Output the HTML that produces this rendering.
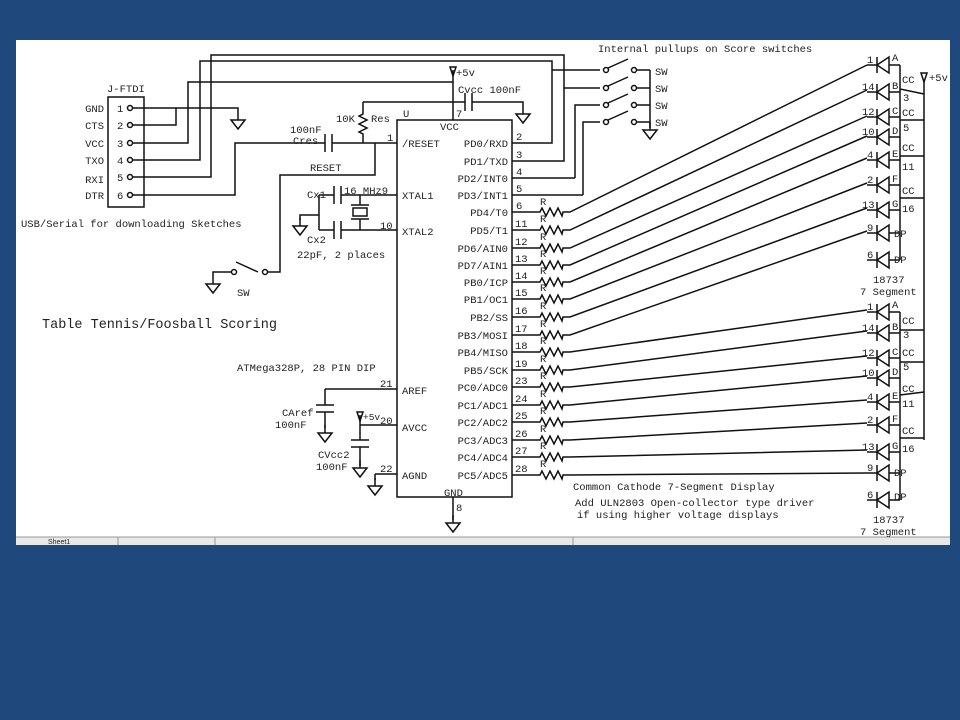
<!DOCTYPE html>
<html><head><meta charset="utf-8"><style>
html,body{margin:0;padding:0;background:#1f497d;width:960px;height:720px;overflow:hidden}
svg{position:absolute;left:0;top:0}
text{font-family:"Liberation Mono",monospace;font-size:10.5px;fill:#222}
</style></head><body>
<svg width="960" height="720" viewBox="0 0 960 720">
<defs>
<g id="gnd"><path d="M0,0 v8 M-7,8 h14 l-7,9 z" fill="none" stroke="#111" stroke-width="1.5"/></g>
<g id="d"><path d="M-8,0 h10 M2,-8 v16 M2,0 l12,-8 v16 z M14,0 h11" fill="none" stroke="#111" stroke-width="1.5"/></g>
</defs>
<rect x="16" y="40" width="934" height="505" fill="#fff"/>
<rect x="16" y="537" width="934" height="8" fill="#e8e8e8"/>
<path d="M16,537 h934 M118,545 v-8 M215,545 v-8 M573,545 v-8" stroke="#999" stroke-width="1"/>
<text x="48" y="544" style="font-size:7px;font-family:'Liberation Sans',sans-serif">Sheet1</text>

<g fill="none" stroke="#111" stroke-width="1.5">
<rect x="108" y="97" width="36" height="110"/>
<path d="M130,108 H238 V112 M130,125 H176 V108 M130,143 H188 V82 H453 M130,160 H200 V61 H552 V143 H512 M130,177 H211 V55 H564 V161 H512 M130,195 H235 V143 H325 M332,143 H397"/>
<path d="M325,134 v18 M332,134 v18"/>
<rect x="397" y="120" width="115" height="377"/>
<path d="M453,70 V120 M453,102 H465 M472,102 H523 V106 M465,93 v18 M472,93 v18"/>
<path d="M363,102 H453"/>
<path d="M363,102 v12 l-4,2 l8,4 l-8,4 l8,4 l-8,4 l4,2 V143"/>
<path d="M375,143 V175 H280 V272 H268 M258,272 L236,262 M232,272 H213 V276"/>
<path d="M319,195 H334 M341,195 H397 M319,230 H334 M341,230 H397 M334,186 v18 M341,186 v18 M334,221 v18 M341,221 v18 M319,195 V230 M319,215 H300 V220"/>
<path d="M360,195 V205 M360,219 V230 M351,205 h18 M351,219 h18"/>
<rect x="353" y="208" width="14" height="8"/>
<path d="M325,389 H397 M325,389 V405 M316,405 h18 M316,412 h18 M325,412 V428"/>
<path d="M360,415 V440 M360,425 H397 M351,440 h18 M351,447 h18 M360,447 V466 M375,474 H397 M375,474 V480 M453,497 V520"/>
<path d="M552,70 H600 M564,88 H600 M575,178 V105 H600 M583,195 V122 H600 M512,178 H575 M512,195 H583 M650,70 V128"/>
</g>
<g stroke="#111" stroke-width="1.5" fill="#fff">
<circle cx="130" cy="108" r="2.5"/><circle cx="130" cy="125" r="2.5"/><circle cx="130" cy="143" r="2.5"/><circle cx="130" cy="160" r="2.5"/><circle cx="130" cy="177" r="2.5"/><circle cx="130" cy="195" r="2.5"/>
</g>
<g stroke="#111" stroke-width="1.5" fill="#fff">
<g transform="translate(600,70)"><circle cx="6" cy="0" r="2.5"/><path d="M8,-2 L28,-11" fill="none"/><circle cx="34" cy="0" r="2.5"/><path d="M37,0 H50" fill="none"/></g>
<g transform="translate(600,88)"><circle cx="6" cy="0" r="2.5"/><path d="M8,-2 L28,-11" fill="none"/><circle cx="34" cy="0" r="2.5"/><path d="M37,0 H50" fill="none"/></g>
<g transform="translate(600,105)"><circle cx="6" cy="0" r="2.5"/><path d="M8,-2 L28,-11" fill="none"/><circle cx="34" cy="0" r="2.5"/><path d="M37,0 H50" fill="none"/></g>
<g transform="translate(600,122)"><circle cx="6" cy="0" r="2.5"/><path d="M8,-2 L28,-11" fill="none"/><circle cx="34" cy="0" r="2.5"/><path d="M37,0 H50" fill="none"/></g>
<circle cx="265" cy="272" r="2.5"/><circle cx="234" cy="272" r="2.5"/>
</g>
<use href="#gnd" x="238" y="112"/><use href="#gnd" x="523" y="106"/><use href="#gnd" x="650" y="122"/>
<use href="#gnd" x="213" y="276"/><use href="#gnd" x="300" y="218"/><use href="#gnd" x="325" y="425"/>
<use href="#gnd" x="360" y="460"/><use href="#gnd" x="375" y="478"/><use href="#gnd" x="453" y="515"/>
<g fill="none" stroke="#111" stroke-width="1.5">
<path d="M453,76 l-3,-9 h6 z M360,421 l-3,-9 h6 z M924,82 l-3,-9 h6 z"/>
</g>

<g fill="none" stroke="#111" stroke-width="1.5">
<path d="M512,212 H540 l2,-4 l4,8 l4,-8 l4,8 l4,-8 l4,8 l1,-4 h7 L867,65"/>
<path d="M512,230 H540 l2,-4 l4,8 l4,-8 l4,8 l4,-8 l4,8 l1,-4 h7 L867,90"/>
<path d="M512,248 H540 l2,-4 l4,8 l4,-8 l4,8 l4,-8 l4,8 l1,-4 h7 L867,116"/>
<path d="M512,265 H540 l2,-4 l4,8 l4,-8 l4,8 l4,-8 l4,8 l1,-4 h7 L867,136"/>
<path d="M512,282 H540 l2,-4 l4,8 l4,-8 l4,8 l4,-8 l4,8 l1,-4 h7 L867,158"/>
<path d="M512,299 H540 l2,-4 l4,8 l4,-8 l4,8 l4,-8 l4,8 l1,-4 h7 L867,183"/>
<path d="M512,317 H540 l2,-4 l4,8 l4,-8 l4,8 l4,-8 l4,8 l1,-4 h7 L867,208"/>
<path d="M512,335 H540 l2,-4 l4,8 l4,-8 l4,8 l4,-8 l4,8 l1,-4 h7 L867,231"/>
<path d="M512,352 H540 l2,-4 l4,8 l4,-8 l4,8 l4,-8 l4,8 l1,-4 h7 L867,310"/>
<path d="M512,370 H540 l2,-4 l4,8 l4,-8 l4,8 l4,-8 l4,8 l1,-4 h7 L867,331"/>
<path d="M512,387 H540 l2,-4 l4,8 l4,-8 l4,8 l4,-8 l4,8 l1,-4 h7 L867,356"/>
<path d="M512,405 H540 l2,-4 l4,8 l4,-8 l4,8 l4,-8 l4,8 l1,-4 h7 L867,376"/>
<path d="M512,422 H540 l2,-4 l4,8 l4,-8 l4,8 l4,-8 l4,8 l1,-4 h7 L867,400"/>
<path d="M512,440 H540 l2,-4 l4,8 l4,-8 l4,8 l4,-8 l4,8 l1,-4 h7 L867,423"/>
<path d="M512,457 H540 l2,-4 l4,8 l4,-8 l4,8 l4,-8 l4,8 l1,-4 h7 L867,450"/>
<path d="M512,475 H540 l2,-4 l4,8 l4,-8 l4,8 l4,-8 l4,8 l1,-4 h7 L867,473"/>
</g>
<g>
<use href="#d" x="875" y="65"/><use href="#d" x="875" y="92"/><use href="#d" x="875" y="117"/><use href="#d" x="875" y="137"/><use href="#d" x="875" y="160"/><use href="#d" x="875" y="185"/><use href="#d" x="875" y="210"/><use href="#d" x="875" y="233"/><use href="#d" x="875" y="260"/>
<use href="#d" x="875" y="312"/><use href="#d" x="875" y="333"/><use href="#d" x="875" y="358"/><use href="#d" x="875" y="378"/><use href="#d" x="875" y="402"/><use href="#d" x="875" y="425"/><use href="#d" x="875" y="452"/><use href="#d" x="875" y="473"/><use href="#d" x="875" y="500"/>
</g>
<g fill="none" stroke="#111" stroke-width="1.5">
<path d="M900,65 V260 M900,89 L924,94 M900,120 H924 M900,156 H924 M900,198 H924 M924,80 V440"/>
<path d="M900,312 V500 M900,330 H924 M900,362 H924 M900,395 L924,392 M900,438 H924"/>
</g>

<text x="107" y="92">J-FTDI</text>
<g text-anchor="end"><text x="104" y="112">GND</text><text x="104" y="129">CTS</text><text x="104" y="147">VCC</text><text x="104" y="164">TXO</text><text x="104" y="183">RXI</text><text x="104" y="199">DTR</text></g>
<text x="117" y="112">1</text><text x="117" y="129">2</text><text x="117" y="147">3</text><text x="117" y="164">4</text><text x="117" y="181">5</text><text x="117" y="199">6</text>
<text x="21" y="227">USB/Serial for downloading Sketches</text>
<text x="42" y="328" style="font-size:13.5px">Table Tennis/Foosball Scoring</text>
<text x="237" y="371">ATMega328P, 28 PIN DIP</text>
<text x="598" y="52">Internal pullups on Score switches</text>
<text x="655" y="75">SW</text><text x="655" y="92">SW</text><text x="655" y="109">SW</text><text x="655" y="126">SW</text>
<text x="237" y="296">SW</text>
<text x="456" y="76">+5v</text><text x="363" y="420" style="font-size:9.5px">+5v</text><text x="929" y="81">+5v</text>
<text x="458" y="93">Cvcc 100nF</text>
<text x="336" y="122">10K</text><text x="371" y="122">Res</text>
<text x="290" y="133">100nF</text><text x="293" y="144">Cres</text>
<text x="310" y="171">RESET</text>
<text x="387" y="141">1</text><text x="456" y="117">7</text><text x="403" y="117">U</text>
<text x="440" y="130">VCC</text><text x="444" y="496">GND</text><text x="456" y="511">8</text>
<text x="307" y="198">Cx1</text><text x="344" y="194">16 MHz9</text><text x="307" y="243">Cx2</text><text x="297" y="258">22pF, 2 places</text><text x="380" y="229">10</text>
<text x="402" y="147">/RESET</text><text x="402" y="199">XTAL1</text><text x="402" y="235">XTAL2</text><text x="402" y="394">AREF</text><text x="402" y="431">AVCC</text><text x="402" y="479">AGND</text>
<text x="380" y="387">21</text><text x="380" y="424">20</text><text x="380" y="472">22</text>
<text x="282" y="416">CAref</text><text x="275" y="428">100nF</text><text x="318" y="458">CVcc2</text><text x="316" y="470">100nF</text>
<g text-anchor="end">
<text x="508" y="147">PD0/RXD</text><text x="508" y="165">PD1/TXD</text><text x="508" y="182">PD2/INT0</text><text x="508" y="199">PD3/INT1</text>
<text x="508" y="216">PD4/T0</text><text x="508" y="234">PD5/T1</text><text x="508" y="252">PD6/AIN0</text><text x="508" y="269">PD7/AIN1</text>
<text x="508" y="286">PB0/ICP</text><text x="508" y="303">PB1/OC1</text><text x="508" y="321">PB2/SS</text><text x="508" y="339">PB3/MOSI</text>
<text x="508" y="356">PB4/MISO</text><text x="508" y="374">PB5/SCK</text><text x="508" y="391">PC0/ADC0</text><text x="508" y="409">PC1/ADC1</text>
<text x="508" y="426">PC2/ADC2</text><text x="508" y="444">PC3/ADC3</text><text x="508" y="461">PC4/ADC4</text><text x="508" y="479">PC5/ADC5</text>
</g>
<g>
<text x="516" y="140">2</text><text x="516" y="158">3</text><text x="516" y="175">4</text><text x="516" y="192">5</text>
<text x="516" y="209">6</text><text x="515" y="227">11</text><text x="515" y="245">12</text><text x="515" y="262">13</text><text x="515" y="279">14</text><text x="515" y="296">15</text><text x="515" y="314">16</text><text x="515" y="332">17</text><text x="515" y="349">18</text><text x="515" y="367">19</text><text x="515" y="384">23</text><text x="515" y="402">24</text><text x="515" y="419">25</text><text x="515" y="437">26</text><text x="515" y="454">27</text><text x="515" y="472">28</text>
</g>
<g style="font-size:9px">
<text x="540" y="205">R</text><text x="540" y="222">R</text><text x="540" y="240">R</text><text x="540" y="257">R</text><text x="540" y="274">R</text><text x="540" y="291">R</text><text x="540" y="309">R</text><text x="540" y="327">R</text><text x="540" y="344">R</text><text x="540" y="362">R</text><text x="540" y="379">R</text><text x="540" y="397">R</text><text x="540" y="414">R</text><text x="540" y="432">R</text><text x="540" y="449">R</text><text x="540" y="467">R</text>
</g>
<g style="font-size:9.5px">
<text x="867" y="63">1</text><text x="862" y="90">14</text><text x="862" y="115">12</text><text x="862" y="135">10</text><text x="867" y="158">4</text><text x="867" y="183">2</text><text x="862" y="208">13</text><text x="867" y="231">9</text><text x="867" y="258">6</text>
<text x="892" y="61">A</text><text x="892" y="89">B</text><text x="892" y="114">C</text><text x="892" y="134">D</text><text x="892" y="157">E</text><text x="892" y="182">F</text><text x="892" y="207">G</text><text x="894" y="237">DP</text><text x="894" y="263">DP</text>
<text x="902" y="83">CC</text><text x="903" y="101">3</text><text x="902" y="116">CC</text><text x="903" y="131">5</text><text x="902" y="151">CC</text><text x="902" y="170">11</text><text x="902" y="194">CC</text><text x="902" y="212">16</text>
<text x="867" y="310">1</text><text x="862" y="331">14</text><text x="862" y="356">12</text><text x="862" y="376">10</text><text x="867" y="400">4</text><text x="867" y="423">2</text><text x="862" y="450">13</text><text x="867" y="471">9</text><text x="867" y="498">6</text>
<text x="892" y="308">A</text><text x="892" y="330">B</text><text x="892" y="355">C</text><text x="892" y="375">D</text><text x="892" y="399">E</text><text x="892" y="422">F</text><text x="892" y="449">G</text><text x="894" y="476">DP</text><text x="894" y="500">DP</text>
<text x="902" y="324">CC</text><text x="903" y="338">3</text><text x="902" y="356">CC</text><text x="903" y="370">5</text><text x="902" y="392">CC</text><text x="902" y="407">11</text><text x="902" y="434">CC</text><text x="902" y="452">16</text>
</g>
<text x="873" y="283">18737</text><text x="860" y="295">7 Segment</text>
<text x="873" y="523">18737</text><text x="860" y="535">7 Segment</text>
<text x="573" y="490">Common Cathode 7-Segment Display</text>
<text x="575" y="506">Add ULN2803 Open-collector type driver</text>
<text x="577" y="518">if using higher voltage displays</text>
</svg>
</body></html>
